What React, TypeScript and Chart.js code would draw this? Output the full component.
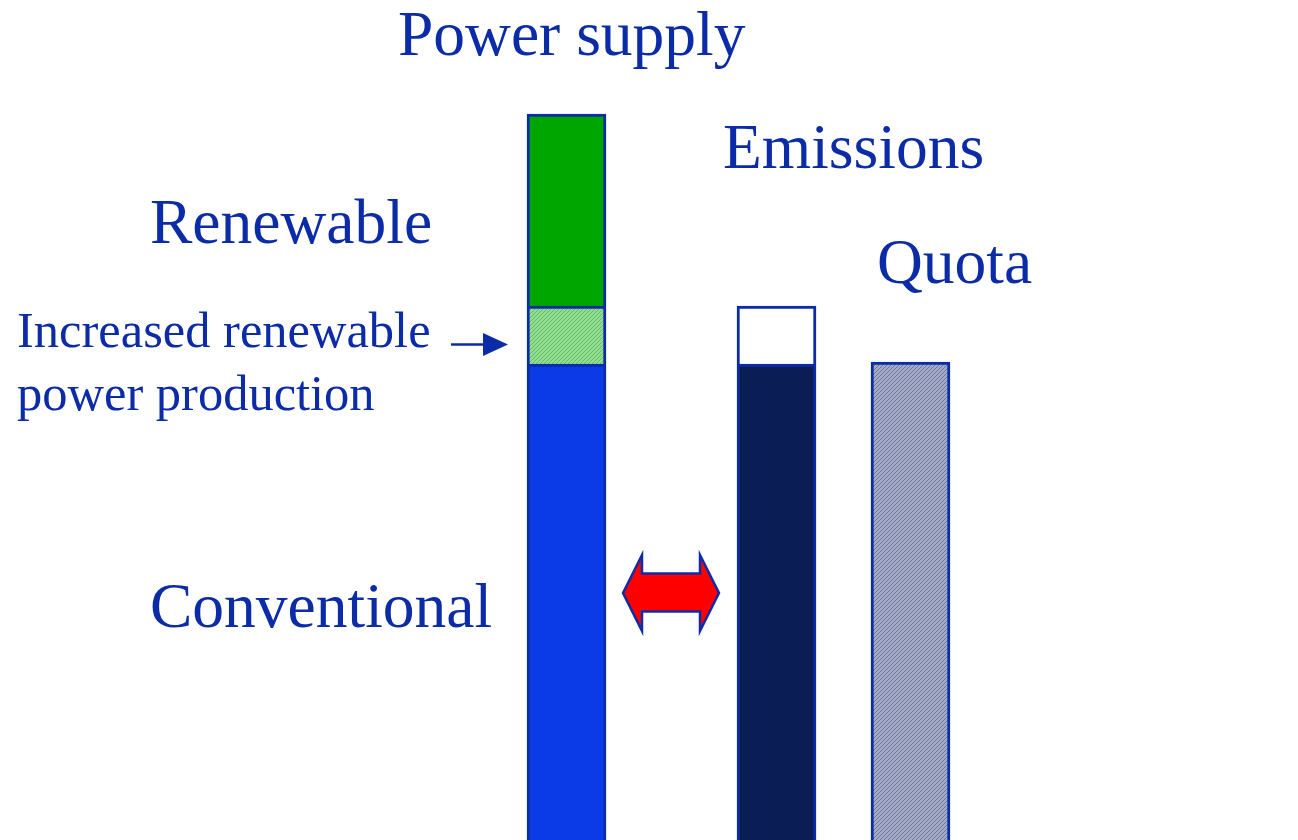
import React, { useEffect, useRef } from "react";
import { Chart, registerables } from "chart.js";

Chart.register(...registerables);

// Bar positions along a unitless horizontal axis (0 .. 12.98)
const barPositions = [5.665, 7.765, 9.105];
const barNames = ["Power supply", "Emissions", "Quota"];

// Heights (unitless, axis 0 .. 840)
const conventional = [476, null, null];
const increasedRenewable = [58, null, null];
const renewable = [192, null, null];
const emissions = [null, 476, null];
const emissionsGap = [null, 58, null];
const quota = [null, null, 478];

const TEXT = "#0B2CA6";
const BORDER = "#0B2CA6";

function hatch(base: string, line: string): CanvasPattern | string {
  const c = document.createElement("canvas");
  c.width = 4;
  c.height = 4;
  const g = c.getContext("2d");
  if (!g) return base;
  g.fillStyle = base;
  g.fillRect(0, 0, 4, 4);
  g.fillStyle = line;
  for (let i = 0; i < 4; i++) {
    g.fillRect(i, 3 - i, 1, 1);
  }
  const p = g.createPattern(c, "repeat");
  return p || base;
}

function toPoints(vals: (number | null)[]) {
  return vals
    .map((v, i) => (v === null ? null : { x: barPositions[i], y: v }))
    .filter((p) => p !== null) as { x: number; y: number }[];
}

const labelsPlugin = {
  id: "labels",
  afterDraw(chart: any) {
    const ctx = chart.ctx as CanvasRenderingContext2D;
    ctx.save();
    ctx.fillStyle = TEXT;
    ctx.textBaseline = "alphabetic";
    ctx.textAlign = "left";
    ctx.font = '63.5px "Liberation Serif", "Times New Roman", serif';
    ctx.fillText(barNames[0], 398, 55);
    ctx.fillText(barNames[1], 723, 168);
    ctx.fillText(barNames[2], 877, 283);
    ctx.fillText("Renewable", 150, 243);
    ctx.fillText("Conventional", 150, 627);
    ctx.font = '50.5px "Liberation Serif", "Times New Roman", serif';
    ctx.fillText("Increased renewable", 17, 347);
    ctx.fillText("power production", 17, 410);

    // small pointer arrow
    ctx.strokeStyle = TEXT;
    ctx.lineWidth = 2.5;
    ctx.beginPath();
    ctx.moveTo(451, 344.5);
    ctx.lineTo(486, 344.5);
    ctx.stroke();
    ctx.beginPath();
    ctx.moveTo(483, 333);
    ctx.lineTo(508, 344.5);
    ctx.lineTo(483, 356);
    ctx.closePath();
    ctx.fill();

    // red double arrow
    ctx.beginPath();
    ctx.moveTo(623, 593);
    ctx.lineTo(642, 555);
    ctx.lineTo(642, 573.5);
    ctx.lineTo(700, 573.5);
    ctx.lineTo(700, 555);
    ctx.lineTo(719, 593);
    ctx.lineTo(700, 631);
    ctx.lineTo(700, 611.5);
    ctx.lineTo(642, 611.5);
    ctx.lineTo(642, 631);
    ctx.closePath();
    ctx.fillStyle = "#FF0000";
    ctx.fill();
    ctx.strokeStyle = BORDER;
    ctx.lineWidth = 2.5;
    ctx.stroke();
    ctx.restore();
  },
};

export default function App() {
  const ref = useRef<HTMLCanvasElement | null>(null);
  useEffect(() => {
    if (!ref.current) return;
    const greenHatch = hatch("#94DC94", "#5FBE5F");
    const grayHatch = hatch("#A3ABC6", "#6C7598");
    const bw = { top: 3, left: 3, right: 3, bottom: 0 };
    const common = {
      stack: "s",
      barThickness: 79,
      borderColor: BORDER,
      borderWidth: bw,
      borderSkipped: false,
    };
    const chart = new Chart(ref.current, {
      type: "bar",
      data: {
        datasets: [
          { ...common, label: "Conventional", data: toPoints(conventional), backgroundColor: "#0A3BE6" },
          { ...common, label: "Increased renewable power production", data: toPoints(increasedRenewable), backgroundColor: greenHatch },
          { ...common, label: "Renewable", data: toPoints(renewable), backgroundColor: "#00A600" },
          { ...common, label: "Emissions", data: toPoints(emissions), backgroundColor: "#0A1E55" },
          { ...common, label: "Emissions increase", data: toPoints(emissionsGap), backgroundColor: "#FFFFFF" },
          { ...common, label: "Quota", data: toPoints(quota), backgroundColor: grayHatch },
        ] as any,
      },
      options: {
        animation: false,
        responsive: false,
        maintainAspectRatio: false,
        layout: { padding: 0 },
        plugins: { legend: { display: false }, tooltip: { enabled: false }, title: { display: false } },
        scales: {
          x: { type: "linear", min: 0, max: 12.98, display: false, stacked: true, offset: false },
          y: { min: 0, max: 840, display: false, stacked: true },
        },
      } as any,
      plugins: [labelsPlugin],
    });
    return () => chart.destroy();
  }, []);
  return (
    <div style={{ position: "fixed", left: 0, top: 0, width: 1298, height: 840, background: "#fff" }}>
      <canvas ref={ref} width={1298} height={840} style={{ display: "block" }} />
    </div>
  );
}
